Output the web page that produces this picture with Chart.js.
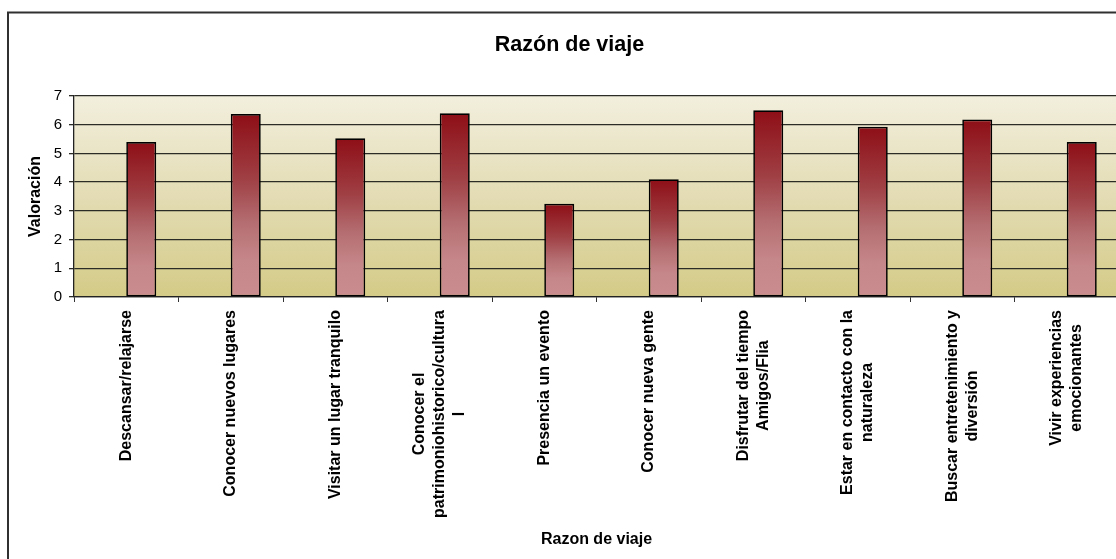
<!DOCTYPE html>
<html>
<head>
<meta charset="utf-8">
<script src="https://cdn.jsdelivr.net/npm/chart.js@4.4.0/dist/chart.umd.min.js"></script>
<style>
  html, body { margin: 0; padding: 0; background: #ffffff; overflow: hidden; }
  #wrap { position: absolute; left: 0; top: 0; width: 1140px; height: 570px; }
</style>
</head>
<body>
<div id="wrap"><canvas id="c"></canvas></div>
<script>
// ---- data ----
const categories = [
  ["Descansar/relajarse"],
  ["Conocer nuevos lugares"],
  ["Visitar un lugar tranquilo"],
  ["Conocer el", "patrimoniohistorico/cultura", "l"],
  ["Presencia un evento"],
  ["Conocer nueva gente"],
  ["Disfrutar del tiempo", "Amigos/Flia"],
  ["Estar en contacto con la", "naturaleza"],
  ["Buscar entretenimiento y", "diversión"],
  ["Vivir experiencias", "emocionantes"]
];
const emptySeries = [null, null, null, null, null, null, null, null, null, null];
const valoracion = [5.40, 6.37, 5.53, 6.40, 3.25, 4.10, 6.50, 5.93, 6.18, 5.40];
const yTicks = [0, 1, 2, 3, 4, 5, 6, 7];

const chartTitle = "Razón de viaje";
const xTitle = "Razon de viaje";
const yTitle = "Valoración";

const FONT = "'Liberation Sans', Arial, Helvetica, sans-serif";

function barGradient(ctx) {
  const chart = ctx.chart;
  const v = ctx.raw;
  if (v == null || !chart.chartArea) return '#a54a50';
  const ys = chart.scales.y;
  const top = ys.getPixelForValue(v);
  const base = ys.getPixelForValue(0);
  const g = chart.ctx.createLinearGradient(0, top, 0, base);
  g.addColorStop(0, '#8E0E16');
  g.addColorStop(0.35, '#9F3F44');
  g.addColorStop(0.6, '#B56F72');
  g.addColorStop(0.8, '#C6878A');
  g.addColorStop(1, '#CB8C8F');
  return g;
}

const backgroundPlugin = {
  id: 'bgPlugin',
  beforeDraw(chart) {
    const c = chart.ctx;
    const a = chart.chartArea;
    c.save();
    c.fillStyle = '#ffffff';
    c.fillRect(0, 0, chart.width, chart.height);
    // outer chart border
    c.strokeStyle = '#303030';
    c.lineWidth = 2;
    c.strokeRect(8, 12.5, chart.width + 50, chart.height + 50);
    // plot area gradient
    const g = c.createLinearGradient(0, a.top, 0, a.bottom);
    g.addColorStop(0, '#F2EFDD');
    g.addColorStop(0.5, '#E3DCB4');
    g.addColorStop(1, '#D4CB87');
    c.fillStyle = g;
    c.fillRect(a.left, a.top, a.right - a.left, a.bottom - a.top);
    c.restore();
  }
};

const xLabelPlugin = {
  id: 'xLabels',
  afterDraw(chart) {
    const c = chart.ctx;
    const xs = chart.scales.x;
    const a = chart.chartArea;
    const lineH = 20;
    c.save();
    c.font = 'bold 16px ' + FONT;
    c.fillStyle = '#000000';
    c.textAlign = 'center';
    c.textBaseline = 'middle';
    categories.forEach((lines, i) => {
      const x = xs.getPixelForValue(i);
      const maxW = Math.max(...lines.map(l => c.measureText(l).width));
      const yc = a.bottom + 13 + maxW / 2;
      const n = lines.length;
      lines.forEach((line, j) => {
        const dx = (j - (n - 1) / 2) * lineH;
        c.save();
        c.translate(x + dx, yc);
        c.rotate(-Math.PI / 2);
        c.fillText(line, 0, 0);
        c.restore();
      });
    });
    c.restore();
  }
};

new Chart(document.getElementById('c'), {
  type: 'bar',
  data: {
    labels: categories,
    datasets: [
      {
        label: 'Serie 1',
        data: emptySeries,
        backgroundColor: 'transparent',
        borderWidth: 0
      },
      {
        label: 'Valoración',
        data: valoracion,
        backgroundColor: barGradient,
        borderColor: '#000000',
        borderWidth: 1.7,
        borderSkipped: false
      }
    ]
  },
  options: {
    responsive: true,
    maintainAspectRatio: false,
    animation: false,
    devicePixelRatio: 1,
    categoryPercentage: 0.574,
    barPercentage: 1.0,
    layout: { padding: { left: 20, right: 21, top: 0, bottom: 17 } },
    plugins: {
      legend: { display: false },
      tooltip: { enabled: false },
      title: {
        display: true,
        text: chartTitle,
        color: '#000000',
        font: { family: FONT, size: 21.5, weight: 'bold' },
        padding: { top: 32, bottom: 38.2 }
      }
    },
    scales: {
      x: {
        grid: {
          display: true,
          offset: true,
          drawOnChartArea: false,
          drawTicks: true,
          tickLength: 5,
          color: '#333333',
          lineWidth: 1
        },
        border: { display: true, color: '#222222', width: 1.3 },
        ticks: { display: false },
        title: {
          display: true,
          text: xTitle,
          color: '#000000',
          font: { family: FONT, size: 16, weight: 'bold' },
          padding: { top: 4, bottom: 4 }
        },
        afterFit(scale) { scale.height = 256; }
      },
      y: {
        min: 0,
        max: 7,
        afterBuildTicks(scale) { scale.ticks = yTicks.map(v => ({ value: v })); },
        grid: {
          color: '#2c2c26',
          lineWidth: 1.3,
          drawTicks: true,
          tickLength: 5
        },
        border: { display: true, color: '#222222', width: 1.3 },
        ticks: {
          color: '#000000',
          padding: 7,
          font: { family: FONT, size: 15 }
        },
        title: {
          display: true,
          text: yTitle,
          color: '#000000',
          font: { family: FONT, size: 16, weight: 'bold' },
          padding: { top: 6, bottom: 4 }
        },
        afterFit(scale) { scale.width = 54; }
      }
    }
  },
  plugins: [backgroundPlugin, xLabelPlugin]
});
</script>
</body>
</html>
